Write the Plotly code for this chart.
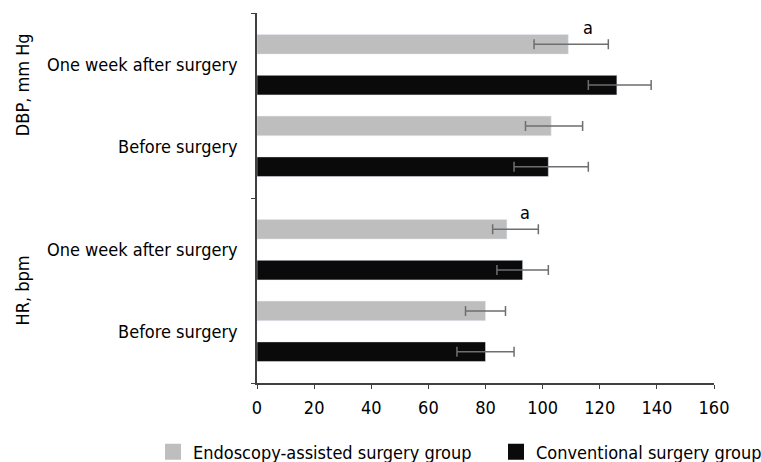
import plotly.graph_objects as go

# Measurement groups (bottom to top) and time points within each group
groups = ["HR, bpm", "DBP, mm Hg"]
times = ["Before surgery", "One week after surgery"]

# Values ordered: HR before, HR one week, DBP before, DBP one week
endo_vals = [80, 87.5, 103, 109]
endo_err_minus = [7, 5, 9, 12]
endo_err_plus = [7, 11, 11, 14]

conv_vals = [80, 93, 102, 126]
conv_err_minus = [10, 9, 12, 10]
conv_err_plus = [10, 9, 14, 12]

# Significance markers: (row index, x position)
sig_marks = [(1, 94), (3, 116)]

x_ticks = [0, 20, 40, 60, 80, 100, 120, 140, 160]

# Numeric layout of the category axis: each group spans `span` units
span = 2.268
inner = (span - 1) / 2
y_pos = [g * span + inner + t for g in range(len(groups)) for t in range(len(times))]
y_text = [times[t] for g in range(len(groups)) for t in range(len(times))]
boundaries = [g * span for g in range(len(groups) + 1)]
group_label_y = [span * 0.5, span * 1.61]

FONT = "DejaVu Sans Condensed, sans-serif"
FS = 18
GREY = "#bebebe"
BLACK = "#0a0a0a"
ERR = "#6e6e6e"

fig = go.Figure()

fig.add_trace(go.Bar(
    y=y_pos, x=conv_vals, orientation="h", marker_color=BLACK,
    name="Conventional surgery group", showlegend=False,
    error_x=dict(type="data", symmetric=False, array=conv_err_plus,
                 arrayminus=conv_err_minus, color=ERR, thickness=1.5, width=5),
))
fig.add_trace(go.Bar(
    y=y_pos, x=endo_vals, orientation="h", marker_color=GREY,
    name="Endoscopy-assisted surgery group", showlegend=False,
    error_x=dict(type="data", symmetric=False, array=endo_err_plus,
                 arrayminus=endo_err_minus, color=ERR, thickness=1.5, width=5),
))

# Legend entries with square swatches, one legend box per group
for name, col, leg in [("Endoscopy-assisted surgery group", GREY, "legend"),
                       ("Conventional surgery group", BLACK, "legend2")]:
    fig.add_trace(go.Scatter(
        x=[None], y=[None], mode="markers", name=name, legend=leg,
        marker=dict(symbol="square", size=17, color=col),
    ))

for idx, xv in sig_marks:
    fig.add_annotation(x=xv, y=y_pos[idx] + 0.25, text="a", showarrow=False,
                       yshift=17, font=dict(size=FS, color="black", family=FONT))

for lbl, yv in zip(groups, group_label_y):
    fig.add_annotation(x=0, xref="paper", xanchor="center", xshift=-235,
                       y=yv, text=lbl, textangle=-90, showarrow=False,
                       font=dict(size=FS, color="black", family=FONT))

legend_common = dict(orientation="h", xref="container", yref="container",
                     xanchor="left", y=1 - 452 / 462, yanchor="middle",
                     font=dict(size=FS), itemwidth=30, bgcolor="rgba(0,0,0,0)")

fig.update_layout(
    width=761, height=462,
    margin=dict(l=257, r=47, t=13, b=79),
    plot_bgcolor="white", paper_bgcolor="white",
    barmode="group", bargap=0, bargroupgap=0.52,
    font=dict(family=FONT, size=FS, color="black"),
    showlegend=True,
    legend=dict(x=153 / 761, **legend_common),
    legend2=dict(x=496 / 761, **legend_common),
)

fig.update_xaxes(
    range=[0, 160], tickvals=x_ticks, ticks="outside", ticklen=4,
    tickcolor="#404040", showline=True, linecolor="#404040", linewidth=1.5,
    showgrid=False, zeroline=False, tickfont=dict(size=FS), ticklabelstandoff=4,
)
fig.update_yaxes(
    range=[0, boundaries[-1]], tickvals=y_pos, ticktext=y_text, ticks="",
    showline=True, linecolor="#404040", linewidth=1.5, showgrid=False,
    zeroline=False, tickfont=dict(size=FS), ticklabelstandoff=14,
    minor=dict(tickvals=boundaries, ticks="outside", ticklen=4,
               tickcolor="#404040", showgrid=False),
)

fig.write_html("out.html")
